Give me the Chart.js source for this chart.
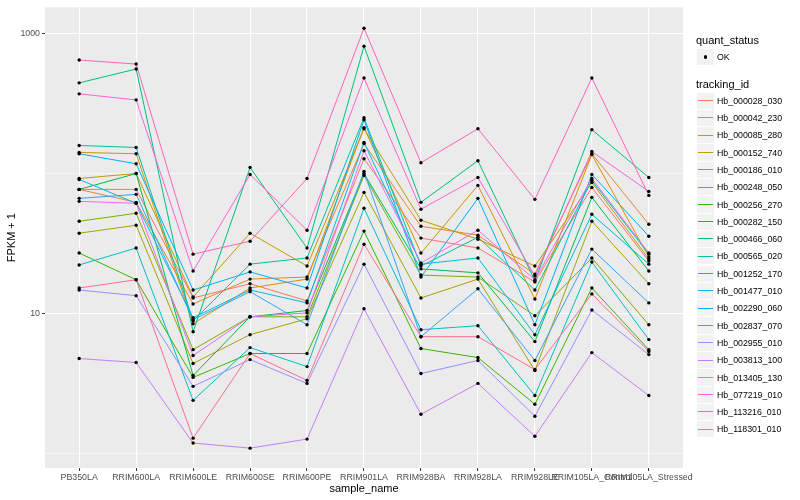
<!DOCTYPE html>
<html>
<head>
<meta charset="utf-8">
<script src="https://cdn.jsdelivr.net/npm/chart.js@4.4.0/dist/chart.umd.min.js"></script>
<style>
  body { margin: 0; background: #fff; }
  #wrap { position: relative; width: 800px; height: 500px; font-family: "Liberation Sans", Arial, sans-serif; }
  .titulo { position: absolute; left: 696px; font-size: 11px; line-height: 13px; color: #000; white-space: nowrap; }
  .caja { position: absolute; left: 697px; width: 17px; height: 16.3px; background: #F2F2F2; }
  .etiqueta { position: absolute; left: 717px; font-size: 8.8px; line-height: 10px; color: #000; white-space: nowrap; }
  .punto { position: absolute; left: 6.8px; top: 6.4px; width: 3.5px; height: 3.5px; border-radius: 50%; background: #000; }
  .linea { position: absolute; left: 1px; right: 1px; top: 7.6px; height: 1px; }
</style>
</head>
<body>
<div id="wrap">
  <canvas id="grafico" width="800" height="500"></canvas>
  <div id="leyenda"></div>
</div>
<script>
// muestras (eje x)
const sampleNames = ["PB350LA", "RRIM600LA", "RRIM600LE", "RRIM600SE", "RRIM600PE", "RRIM901LA",
  "RRIM928BA", "RRIM928LA", "RRIM928LE", "RRIM105LA_Control", "RRIM105LA_Stressed"]

const trackingIds = ["Hb_000028_030", "Hb_000042_230", "Hb_000085_280", "Hb_000152_740", "Hb_000186_010",
  "Hb_000248_050", "Hb_000256_270", "Hb_000282_150", "Hb_000466_060", "Hb_000565_020",
  "Hb_001252_170", "Hb_001477_010", "Hb_002290_060", "Hb_002837_070", "Hb_002955_010",
  "Hb_003813_100", "Hb_013405_130", "Hb_077219_010", "Hb_113216_010", "Hb_118301_010"]

// colores tipo ggplot (hue)
const colores = ["#F8766D", "#EA8331", "#D89000", "#C09B00", "#A3A500", "#7CAE00", "#39B600", "#00BB4E",
  "#00BF7D", "#00C1A3", "#00BFC4", "#00BAE0", "#00B0F6", "#35A2FF", "#9590FF", "#C77CFF",
  "#E76BF3", "#FA62DB", "#FF62BC", "#FF6C91"]

// FPKM + 1, mismo orden que sampleNames
const hb_000028_030 = [76.8, 76.8, 12.9, 16.3, 12.3, 127, 34.5, 29.3, 16.8, 79.3, 23.7]
const hb_000042_230 = [76.8, 62.1, 11.7, 17.6, 18.2, 163, 41.9, 36.2, 19.1, 138, 43.3]
const hb_000085_280 = [141, 138, 8.45, 15.2, 17.6, 212, 27.0, 82.0, 12.7, 136, 25.3]
const hb_000152_740 = [91.9, 99.7, 13.1, 37.4, 21.8, 208, 46.3, 33.9, 21.8, 86.1, 24.5]
const hb_000186_010 = [37.4, 42.6, 4.40, 7.06, 9.17, 73.1, 12.9, 17.6, 3.92, 45.5, 16.3]
const hb_000248_050 = [45.5, 51.9, 5.52, 9.47, 9.47, 96.5, 18.8, 18.2, 9.63, 24.9, 8.31]
const hb_000256_270 = [27.0, 17.4, 3.50, 5.18, 5.18, 38.7, 5.62, 4.85, 2.25, 15.2, 5.52]
const hb_000282_150 = [76.8, 99.7, 3.61, 9.47, 10.5, 99.7, 20.8, 19.5, 6.30, 67.4, 20.1]
const hb_000466_060 = [442, 555, 7.41, 110, 29.3, 808, 62.1, 123, 17.1, 205, 93.4]
const hb_000565_020 = [158, 153, 8.88, 22.5, 24.9, 249, 21.8, 35.0, 14.7, 89.0, 26.5]
const hb_001252_170 = [22.2, 29.3, 2.40, 5.71, 4.18, 56.3, 7.66, 8.18, 2.60, 23.3, 6.51]
const hb_001477_010 = [90.4, 61.1, 9.32, 14.7, 11.9, 166, 22.5, 24.9, 7.06, 51.0, 22.5]
const hb_002290_060 = [138, 117, 14.7, 19.8, 15.2, 241, 18.2, 66.3, 8.31, 98.1, 35.6]
const hb_002837_070 = [66.3, 70.8, 9.02, 14.3, 8.31, 103, 6.83, 15.0, 4.62, 28.8, 11.9]
const hb_002955_010 = [14.7, 13.4, 3.02, 4.69, 3.17, 22.5, 3.73, 4.62, 1.85, 10.6, 5.09]
const hb_003813_100 = [4.77, 4.47, 1.19, 1.095, 1.27, 10.8, 1.91, 3.17, 1.33, 5.26, 2.60]
const hb_013405_130 = [63.1, 61.1, 5.01, 9.47, 10.1, 145, 22.9, 39.3, 17.4, 91.9, 27.0]
const hb_077219_010 = [369, 334, 20.1, 98.1, 39.3, 479, 55.4, 93.4, 18.5, 143, 74.3]
const hb_113216_010 = [643, 602, 26.5, 32.8, 91.9, 1085, 119, 208, 65.2, 479, 69.6]
const hb_118301_010 = [15.2, 17.4, 1.29, 5.18, 3.33, 31.2, 6.83, 6.83, 3.98, 13.8, 5.35]

const series = [hb_000028_030, hb_000042_230, hb_000085_280, hb_000152_740, hb_000186_010,
  hb_000248_050, hb_000256_270, hb_000282_150, hb_000466_060, hb_000565_020,
  hb_001252_170, hb_001477_010, hb_002290_060, hb_002837_070, hb_002955_010,
  hb_003813_100, hb_013405_130, hb_077219_010, hb_113216_010, hb_118301_010]

// eje y (log)
const yTicks = [1, 10, 100, 1000]
const yLabels = [10, 1000]

Chart.defaults.font.family = '"Liberation Sans", Arial, sans-serif'

// fondo gris del panel
const fondoPanel = {
  id: "fondoPanel",
  beforeDraw(chart) {
    const { ctx, chartArea } = chart
    ctx.save()
    ctx.fillStyle = "#EBEBEB"
    ctx.fillRect(chartArea.left, chartArea.top, chartArea.right - chartArea.left, chartArea.bottom - chartArea.top)
    ctx.restore()
  }
}

let datasets = series.map((valores, i) => ({
  type: "line",
  label: trackingIds[i],
  data: valores.map((v, j) => ({ x: j, y: v })),
  borderColor: colores[i],
  borderWidth: 1,
  pointRadius: 0,
  order: series.length - i
}))

// puntos negros (quant_status = OK) encima de todo
datasets.push({
  type: "scatter",
  label: "OK",
  data: series.flatMap(valores => valores.map((v, j) => ({ x: j, y: v }))),
  backgroundColor: "#000",
  borderWidth: 0,
  pointRadius: 1.7,
  order: 0
})

const esMayor = c => c.tick && yLabels.includes(c.tick.value)

let ctx = document.getElementById("grafico").getContext("2d")
let myChart = new Chart(ctx, {
  type: "line",
  data: { datasets: datasets },
  plugins: [fondoPanel],
  options: {
    responsive: false,
    animation: false,
    layout: { padding: { top: 5, right: 117, left: 0, bottom: 0 } },
    plugins: { legend: { display: false }, tooltip: { enabled: false } },
    scales: {
      x: {
        type: "linear",
        min: -0.6,
        max: 10.6,
        afterBuildTicks: s => { s.ticks = sampleNames.map((n, i) => ({ value: i })) },
        afterFit: s => { s.height = 32 },
        ticks: {
          callback: v => sampleNames[v],
          autoSkip: false, maxRotation: 0, minRotation: 0,
          color: "#4D4D4D", font: { size: 8.8 }, padding: 1
        },
        grid: { color: "#fff", lineWidth: 1.1, tickColor: "#333", tickLength: 3, tickWidth: 1 },
        border: { display: false },
        title: { display: true, text: "sample_name", color: "#000", font: { size: 11 }, padding: { top: 0, bottom: 4 } }
      },
      y: {
        type: "logarithmic",
        min: 0.79,
        max: 1530,
        afterBuildTicks: s => { s.ticks = yTicks.map(v => ({ value: v })) },
        afterFit: s => { s.width = 45 },
        ticks: {
          callback: v => yLabels.includes(v) ? String(v) : "",
          autoSkip: false, color: "#4D4D4D", font: { size: 8.8 }, padding: 2
        },
        grid: {
          color: "#fff",
          lineWidth: c => esMayor(c) ? 1.1 : 0.55,
          tickColor: c => esMayor(c) ? "#333" : "rgba(0,0,0,0)",
          tickLength: 3,
          tickWidth: 1
        },
        border: { display: false },
        title: { display: true, text: "FPKM + 1", color: "#000", font: { size: 11 }, padding: { top: 5, bottom: 0 } }
      }
    }
  }
})

// leyenda al estilo ggplot
const leyenda = document.getElementById("leyenda")
function nuevoDiv(clase, top, texto) {
  let d = document.createElement("div")
  d.className = clase
  d.style.top = top + "px"
  if (texto) d.textContent = texto
  leyenda.appendChild(d)
  return d
}

nuevoDiv("titulo", 34, "quant_status")
nuevoDiv("caja", 49).innerHTML = '<span class="punto"></span>'
nuevoDiv("etiqueta", 52, "OK")

nuevoDiv("titulo", 78, "tracking_id")
trackingIds.forEach((id, i) => {
  let centro = 100.7 + 17.3 * i
  nuevoDiv("caja", centro - 8.2).innerHTML = '<span class="linea" style="background:' + colores[i] + '"></span>'
  nuevoDiv("etiqueta", centro - 5, id)
})
</script>
</body>
</html>
